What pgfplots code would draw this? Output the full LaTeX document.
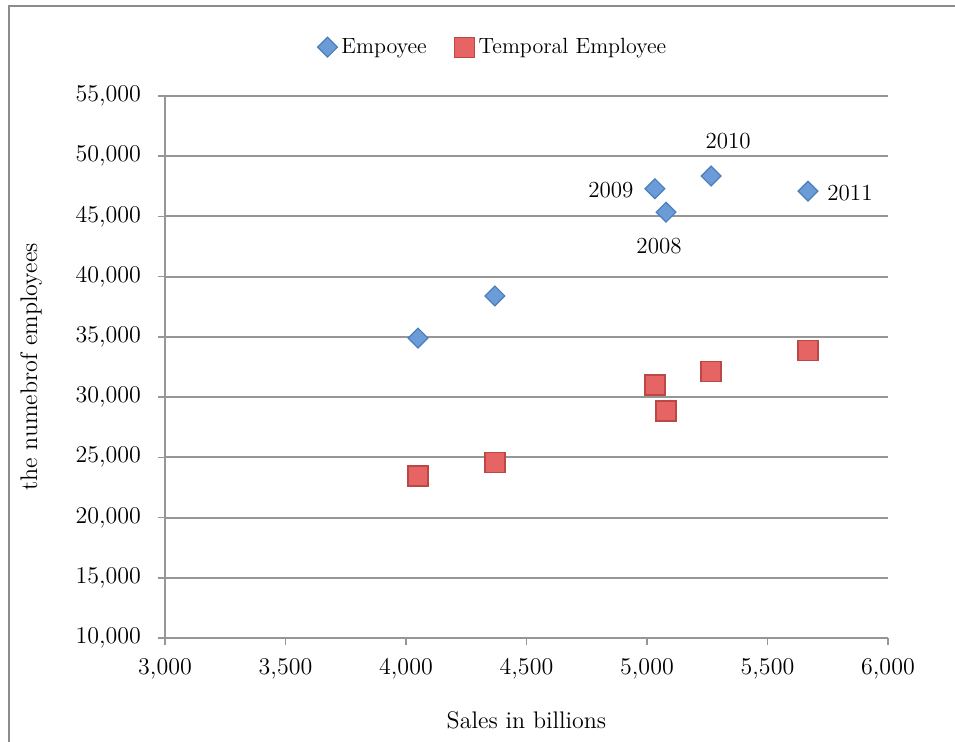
\documentclass[border=0pt]{standalone}
\usepackage{pgfplots}
\usepackage{pgfplotstable}
\pgfplotsset{compat=1.18}
\definecolor{gridgray}{RGB}{150,150,150}
\definecolor{bluefill}{RGB}{108,156,215}
\definecolor{blueedge}{RGB}{74,126,187}
\definecolor{redfill}{RGB}{230,100,100}
\definecolor{rededge}{RGB}{185,72,70}
\definecolor{framegray}{RGB}{140,140,140}
\pgfplotstableread{
x y label dx dy
4050 34900 {} 0 0
4369 38400 {} 0 0
5033 47300 2009 -22 -0.5
5079 45350 2008 -3.5 -17
5266 48350 2010 8.5 17.5
5668 47100 2011 21 -1
}\employee
\pgfplotstableread{
x y
4050 23450
4369 24600
5033 31000
5079 28850
5266 32100
5668 33900
}\temporal
\begin{document}
\begin{tikzpicture}[font=\fontsize{11}{13}\selectfont]
\path[use as bounding box] (-82.5pt,-52pt) rectangle (395pt,319pt);
\draw[framegray, line width=1pt] (-78pt,-52pt) -- (-78pt,316pt) -- (395pt,316pt);
\begin{axis}[
  at={(0,0)}, anchor=south west,
  scale only axis, width=361.5pt, height=271pt,
  xmin=3000, xmax=6000, ymin=10000, ymax=55000,
  xtick distance=500, ytick distance=5000,
  scaled ticks=false,
  /pgf/number format/.cd, fixed, 1000 sep={,}, assume math mode=true, /pgfplots/.cd,
  axis x line*=bottom, axis y line*=left,
  axis line style={gridgray, line width=1pt, -},
  tick align=outside, major tick length=3.5pt,
  tick style={gridgray, line width=0.8pt},
  ymajorgrids, grid style={gridgray, line width=1pt},
  tick label style={font=\fontsize{12}{14}\selectfont},
  yticklabel style={xshift=-5pt},
  xticklabel style={yshift=-3pt},
  xlabel={Sales in billions},
  ylabel={the numebrof employees},
  label style={font=\fontsize{12}{14}\selectfont},
  xlabel style={at={(axis description cs:0.5,-0.151)}, anchor=center},
  ylabel style={at={(axis description cs:-0.185,0.5)}, anchor=center},
  legend style={at={(0.455,1.09)}, anchor=center, draw=none, fill=none,
    legend columns=2, /tikz/every even column/.append style={column sep=12pt},
    font=\fontsize{11}{13}\selectfont},
  legend cell align=left,
  clip=false,
]
\addplot[only marks, mark=square*, mark size=3.5pt,
  mark options={rotate=45, fill=bluefill, draw=blueedge, line width=0.6pt},
  nodes near coords, point meta=explicit symbolic,
  visualization depends on={\thisrow{dx}\as\dx},
  visualization depends on={\thisrow{dy}\as\dy},
  nodes near coords style={anchor=center, xshift=\dx pt, yshift=\dy pt, text=black, font=\fontsize{11.5}{13}\selectfont},
] table[x=x, y=y, meta=label] {\employee};
\addlegendentry{Empoyee}
\addplot[only marks, mark=square*, mark size=5pt,
  mark options={fill=redfill, draw=rededge, line width=0.6pt},
] table[x=x, y=y] {\temporal};
\addlegendentry{Temporal Employee}
\end{axis}
\end{tikzpicture}
\end{document}
